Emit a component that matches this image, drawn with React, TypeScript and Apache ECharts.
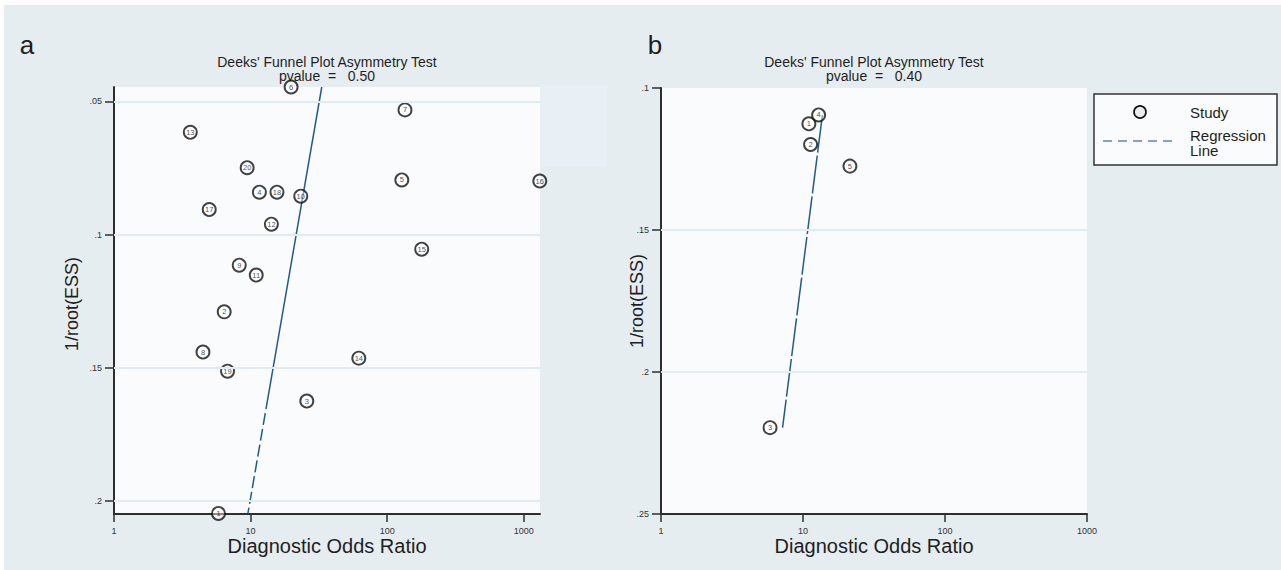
import React, { useEffect, useRef } from "react";
import * as echarts from "echarts";

// ---- Data ----
const leftStudies = ["1", "2", "3", "4", "5", "6", "7", "8", "9", "10", "11", "12", "13", "14", "15", "16", "17", "18", "19", "20"];
const leftDOR = [5.82, 6.41, 25.8, 11.6, 128, 19.8, 135, 4.48, 8.26, 23.3, 11.0, 14.2, 3.62, 62, 179, 1310, 4.98, 15.6, 6.78, 9.44];
const leftESS = [0.2047, 0.129, 0.1625, 0.0841, 0.0795, 0.0446, 0.0532, 0.1441, 0.1115, 0.0856, 0.1152, 0.0961, 0.0616, 0.1464, 0.1055, 0.0799, 0.0906, 0.0841, 0.1513, 0.0749];
const leftRegression = [[33.2, 0.0446], [9.56, 0.2047]];

const rightStudies = ["1", "2", "3", "4", "5"];
const rightDOR = [11.0, 11.31, 5.86, 12.88, 21.4];
const rightESS = [0.1126, 0.1199, 0.2196, 0.1095, 0.1275];
const rightRegression = [[13.7, 0.1095], [7.18, 0.2196]];

const xTicks = [1, 10, 100, 1000];
const leftYTicks = [0.05, 0.1, 0.15, 0.2];
const rightYTicks = [0.1, 0.15, 0.2, 0.25];

const titleLine1 = "Deeks' Funnel Plot Asymmetry Test";
const leftPvalue = "pvalue  =   0.50";
const rightPvalue = "pvalue  =   0.40";
const xTitle = "Diagnostic Odds Ratio";
const yTitle = "1/root(ESS)";

const FONT = "'Liberation Sans', Arial, Helvetica, sans-serif";
const AXIS = "#2e2e2e";
const REG = "#24598c";

const fmtY = (v: number) => String(+v.toFixed(3)).replace(/^0/, "");

const makeX = (gridIndex: number, max: number) => ({
  type: "log",
  logBase: 10,
  gridIndex,
  min: 1,
  max,
  axisLine: { show: true, onZero: false, lineStyle: { color: AXIS, width: 2 } },
  axisTick: { show: true, length: 8, customValues: xTicks, lineStyle: { color: AXIS, width: 1.5 } },
  axisLabel: {
    customValues: xTicks,
    fontSize: 9,
    color: "#333",
    margin: 12,
    fontFamily: FONT,
    formatter: (v: number) => String(Math.round(v)),
  },
  splitLine: { show: false },
  minorTick: { show: false },
});

const makeY = (gridIndex: number, min: number, max: number, ticks: number[]) => ({
  type: "value",
  gridIndex,
  inverse: true,
  min,
  max,
  axisLine: { show: true, onZero: false, lineStyle: { color: AXIS, width: 2 } },
  axisTick: { show: true, length: 9, customValues: ticks, lineStyle: { color: AXIS, width: 1.5 } },
  axisLabel: {
    customValues: ticks,
    fontSize: 9,
    color: "#333",
    margin: 12,
    fontFamily: FONT,
    formatter: (v: number) => fmtY(v),
  },
  splitLine: { show: false },
});

const scatterSeries = (idx: number, names: string[], xs: number[], ys: number[]) => ({
  type: "scatter",
  xAxisIndex: idx,
  yAxisIndex: idx,
  clip: false,
  symbol: "circle",
  symbolSize: 13,
  z: 4,
  itemStyle: { color: "rgba(255,255,255,0.55)", borderColor: "#111", borderWidth: 1.9 },
  label: {
    show: true,
    position: "inside",
    formatter: (p: any) => p.name,
    fontSize: 7.5,
    color: "#222",
    fontFamily: FONT,
  },
  data: names.map((n, i) => ({ name: n, value: [xs[i], ys[i]] })),
});

const gridLineSeries = (idx: number, ticks: number[], min: number, max: number) => ({
  type: "line",
  xAxisIndex: idx,
  yAxisIndex: idx,
  data: [],
  z: 1,
  silent: true,
  markLine: {
    silent: true,
    symbol: "none",
    label: { show: false },
    lineStyle: { color: "#e1ebf2", width: 2, type: "solid" },
    data: ticks.filter((t) => t > min && t < max).map((t) => ({ yAxis: t })),
  },
});

const regSeries = (idx: number, data: number[][], dash: number[]) => ({
  type: "line",
  xAxisIndex: idx,
  yAxisIndex: idx,
  data,
  symbol: "none",
  silent: true,
  z: 3,
  lineStyle: { color: REG, width: 1.5, type: dash },
});

const txt = (x: number, y: number, text: string, fontSize: number, extra: any = {}) => ({
  type: "text",
  x,
  y,
  style: {
    text,
    fontSize,
    fontFamily: FONT,
    fill: "#1e1e1e",
    align: "center",
    verticalAlign: "middle",
    ...extra,
  },
});

export default function App() {
  const ref = useRef<HTMLDivElement>(null);

  useEffect(() => {
    if (!ref.current) return;
    const chart = echarts.init(ref.current, undefined, { renderer: "svg" });
    const leftMin = 0.0446;
    const leftMax = 0.2049;
    const rightMin = 0.1;
    const rightMax = 0.25;

    chart.setOption({
      animation: false,
      grid: [
        { left: 114, top: 87, width: 426, height: 427, show: true, backgroundColor: "#fafbfc", borderWidth: 0 },
        { left: 661, top: 88, width: 426, height: 426, show: true, backgroundColor: "#fafbfc", borderWidth: 0 },
      ],
      xAxis: [makeX(0, 1315), makeX(1, 1000)],
      yAxis: [makeY(0, leftMin, leftMax, leftYTicks), makeY(1, rightMin, rightMax, rightYTicks)],
      series: [
        gridLineSeries(0, leftYTicks, leftMin, leftMax),
        gridLineSeries(1, rightYTicks, rightMin, rightMax),
        regSeries(0, leftRegression, [327, 4, 12, 4, 12, 4, 12, 4, 12, 4, 12, 4, 12, 4, 12, 4, 12, 300]),
        regSeries(1, rightRegression, [38, 3]),
        scatterSeries(0, leftStudies, leftDOR, leftESS),
        scatterSeries(1, rightStudies, rightDOR, rightESS),
      ],
      graphic: [
        { type: "rect", shape: { x: 540, y: 85, width: 67, height: 82 }, style: { fill: "#e8f0f6" }, z: -1 },
        txt(27, 45, "a", 26),
        txt(655, 45, "b", 26),
        txt(327, 62, titleLine1, 14),
        txt(327, 76, leftPvalue, 14),
        txt(874, 62, titleLine1, 14),
        txt(874, 76, rightPvalue, 14),
        txt(327, 546, xTitle, 20),
        txt(874, 546, xTitle, 20),
        { ...txt(0, 0, yTitle, 18), x: 72, y: 304, rotation: Math.PI / 2 },
        { ...txt(0, 0, yTitle, 18), x: 637, y: 301, rotation: Math.PI / 2 },
        // legend box
        {
          type: "rect",
          shape: { x: 1094, y: 94, width: 183, height: 71 },
          style: { fill: "#fafbfc", stroke: "#333", lineWidth: 1.5 },
        },
        {
          type: "circle",
          shape: { cx: 1140, cy: 112, r: 6 },
          style: { fill: "#ececec", stroke: "#111", lineWidth: 1.7 },
        },
        txt(1190, 112, "Study", 15, { align: "left" }),
        {
          type: "line",
          shape: { x1: 1103, y1: 141, x2: 1177, y2: 141 },
          style: { stroke: "#5a86b3", lineWidth: 1.5, lineDash: [9, 6] },
        },
        txt(1190, 135, "Regression", 15, { align: "left" }),
        txt(1190, 150, "Line", 15, { align: "left" }),
      ],
    });
    return () => chart.dispose();
  }, []);

  return (
    <div style={{ position: "absolute", left: 0, top: 0, width: 1281, height: 570, background: "#ffffff" }}>
      <div style={{ position: "absolute", left: 4, top: 5, width: 1277, height: 565, background: "#e6edf1" }} />
      <div ref={ref} style={{ position: "absolute", left: 0, top: 0, width: 1281, height: 570 }} />
    </div>
  );
}
